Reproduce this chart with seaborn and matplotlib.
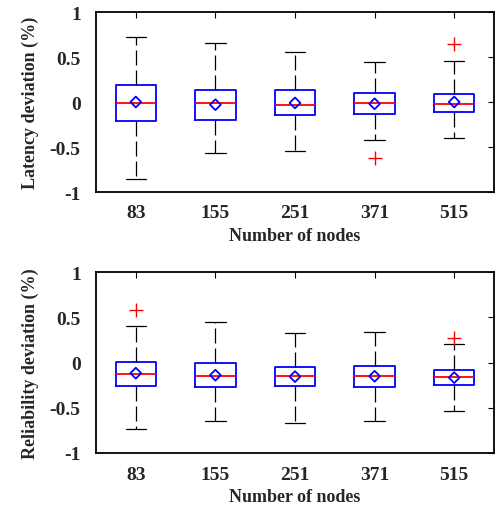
import numpy as np
import pandas as pd
import matplotlib.pyplot as plt
import seaborn as sns

nodes = ['83', '155', '251', '371', '515']

# latency deviation (%) - box statistics
lat_low = [-0.85, -0.57, -0.545, -0.42, -0.405]
lat_q1 = [-0.21, -0.20, -0.148, -0.13, -0.107]
lat_med = [-0.015, -0.01, -0.03, -0.007, -0.02]
lat_q3 = [0.19, 0.137, 0.13, 0.10, 0.093]
lat_high = [0.72, 0.655, 0.555, 0.448, 0.459]
lat_mean = [0.0, -0.03, -0.01, -0.02, 0.0]
lat_out_nodes = ['371', '515']
lat_out = [-0.62, 0.648]

# reliability deviation (%)
rel_low = [-0.74, -0.648, -0.667, -0.648, -0.537]
rel_q1 = [-0.26, -0.27, -0.263, -0.267, -0.248]
rel_med = [-0.126, -0.152, -0.144, -0.148, -0.159]
rel_q3 = [0.011, -0.007, -0.052, -0.044, -0.081]
rel_high = [0.407, 0.444, 0.326, 0.333, 0.20]
rel_mean = [-0.118, -0.14, -0.156, -0.152, -0.167]
rel_out_nodes = ['83', '515']
rel_out = [0.578, 0.27]

yticks = [-1, -0.5, 0, 0.5, 1]
yticklabels = ['-1', '-0.5', '0', '0.5', '1']

sns.set_style("white")
plt.rcParams['font.family'] = ['Liberation Serif', 'DejaVu Serif']
plt.rcParams['font.weight'] = 'bold'
plt.rcParams['axes.labelweight'] = 'bold'


def box_frame(low, q1, med, q3, high):
    # five values per group -> quartiles / min / max land exactly on the read stats
    rows = []
    for i, n in enumerate(nodes):
        for v in (low[i], q1[i], med[i], q3[i], high[i]):
            rows.append((n, v))
    return pd.DataFrame(rows, columns=['nodes', 'value'])


def draw(ax, df, means, out_nodes, out_vals, ylabel):
    sns.boxplot(data=df, x='nodes', y='value', order=nodes, ax=ax,
                whis=(0, 100), width=0.51, fill=False, color='blue',
                linewidth=1.3, showfliers=False,
                medianprops=dict(color='red', linewidth=1.3),
                whiskerprops=dict(color='black', linestyle=(0, (12, 4)), linewidth=0.9),
                capprops=dict(color='black', linewidth=0.9))
    sns.stripplot(x=nodes, y=means, order=nodes, ax=ax, jitter=False,
                  marker='D', size=5.5, color='blue', facecolor='none',
                  edgecolor='blue', linewidth=1.3, zorder=4)
    sns.stripplot(x=out_nodes, y=out_vals, order=nodes, ax=ax, jitter=False,
                  marker='+', size=10.5, color='red', linewidth=1.0, zorder=4)
    ax.set_xlim(-0.5, 4.5)
    ax.set_ylim(-1, 1)
    ax.set_yticks(yticks)
    ax.set_yticklabels(yticklabels)
    ax.set_xlabel('Number of nodes', fontsize=13, labelpad=4)
    ax.set_ylabel(ylabel, fontsize=13, labelpad=8)
    ax.tick_params(direction='in', top=True, right=True, length=4, width=0.8,
                   labelsize=14, color='black')
    ax.tick_params(axis='y', pad=11)
    ax.tick_params(axis='x', pad=9)
    for s in ax.spines.values():
        s.set_visible(True)
        s.set_color('black')
        s.set_linewidth(1.3)


fig = plt.figure(figsize=(4.97, 5.06), dpi=100)
ax1 = fig.add_axes([96 / 497, 1 - 193 / 506, 398 / 497, 180 / 506])
ax2 = fig.add_axes([96 / 497, 1 - 454 / 506, 398 / 497, 181 / 506])

draw(ax1, box_frame(lat_low, lat_q1, lat_med, lat_q3, lat_high), lat_mean,
     lat_out_nodes, lat_out, 'Latency deviation (%)')
draw(ax2, box_frame(rel_low, rel_q1, rel_med, rel_q3, rel_high), rel_mean,
     rel_out_nodes, rel_out, 'Reliability deviation (%)')

fig.savefig('out.png', dpi=100)
